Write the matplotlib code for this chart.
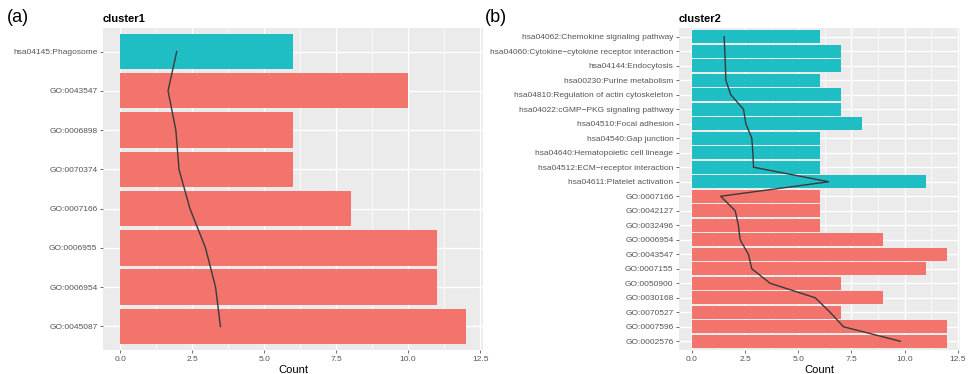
import matplotlib.pyplot as plt
from matplotlib.ticker import MultipleLocator, FormatStrFormatter

plt.rcParams["font.family"] = ["Liberation Sans", "DejaVu Sans"]

# cluster1, top to bottom
c1_terms = ["hsa04145:Phagosome", "GO:0043547", "GO:0006898", "GO:0070374",
            "GO:0007166", "GO:0006955", "GO:0006954", "GO:0045087"]
c1_count = [6, 10, 6, 6, 8, 11, 11, 12]
c1_kegg = [True, False, False, False, False, False, False, False]
c1_line = [1.96, 1.66, 1.93, 2.04, 2.42, 2.96, 3.31, 3.48]

# cluster2, top to bottom
c2_terms = ["hsa04062:Chemokine signaling pathway",
            "hsa04060:Cytokine\u2212cytokine receptor interaction",
            "hsa04144:Endocytosis", "hsa00230:Purine metabolism",
            "hsa04810:Regulation of actin cytoskeleton",
            "hsa04022:cGMP\u2212PKG signaling pathway", "hsa04510:Focal adhesion",
            "hsa04540:Gap junction", "hsa04640:Hematopoietic cell lineage",
            "hsa04512:ECM\u2212receptor interaction", "hsa04611:Platelet activation",
            "GO:0007166", "GO:0042127", "GO:0032496", "GO:0006954", "GO:0043547",
            "GO:0007155", "GO:0050900", "GO:0030168", "GO:0070527", "GO:0007596",
            "GO:0002576"]
c2_count = [6, 7, 7, 6, 7, 7, 8, 6, 6, 6, 11,
            6, 6, 6, 9, 12, 11, 7, 9, 7, 12, 12]
c2_kegg = [True] * 11 + [False] * 11
c2_line = [1.52, 1.55, 1.58, 1.60, 1.83, 2.43, 2.54, 2.82, 2.87, 2.90, 6.43,
           1.36, 2.04, 2.19, 2.27, 2.66, 2.82, 3.68, 5.80, 6.50, 7.13, 9.80]

TEAL = "#1FBEC4"
RED = "#F2746C"
W, H = 969, 374

fig = plt.figure(figsize=(W / 100, H / 100), dpi=100)


def panel(rect, terms, counts, kegg, line, title):
    ax = fig.add_axes(rect)
    n = len(terms)
    ys = list(range(n, 0, -1))
    ax.set_facecolor("#EBEBEB")
    ax.set_axisbelow(True)
    colors = [TEAL if k else RED for k in kegg]
    ax.barh(ys, counts, height=0.9, color=colors, zorder=2)
    ax.plot(line, ys, color="#3A3A3A", lw=1.0, zorder=3)
    ax.set_xlim(-0.6, 12.6)
    ax.set_ylim(0.4, n + 0.6)
    ax.xaxis.set_major_locator(MultipleLocator(2.5))
    ax.xaxis.set_minor_locator(MultipleLocator(1.25))
    ax.xaxis.set_major_formatter(FormatStrFormatter("%.1f"))
    ax.set_yticks(ys)
    ax.set_yticklabels(terms)
    ax.grid(which="major", color="white", lw=1.0)
    ax.grid(which="minor", axis="x", color="white", lw=0.5)
    ax.tick_params(axis="both", which="major", labelsize=6, colors="#555555",
                   length=2.5, width=0.6, pad=1.5)
    ax.tick_params(axis="x", which="minor", length=0)
    for s in ax.spines.values():
        s.set_visible(False)
    ax.set_xlabel("Count", fontsize=8, color="black", labelpad=2)
    ax.set_title(title, loc="left", fontsize=8, fontweight="bold", pad=4)
    return ax


panel([103 / W, 1 - 350 / H, 380 / W, 322 / H],
      c1_terms, c1_count, c1_kegg, c1_line, "cluster1")
panel([679 / W, 1 - 350 / H, 281 / W, 322 / H],
      c2_terms, c2_count, c2_kegg, c2_line, "cluster2")

fig.text(7 / W, 1 - 18 / H, "(a)", fontsize=13, va="center", ha="left")
fig.text(485 / W, 1 - 18 / H, "(b)", fontsize=13, va="center", ha="left")

fig.savefig("out.png", dpi=100)
